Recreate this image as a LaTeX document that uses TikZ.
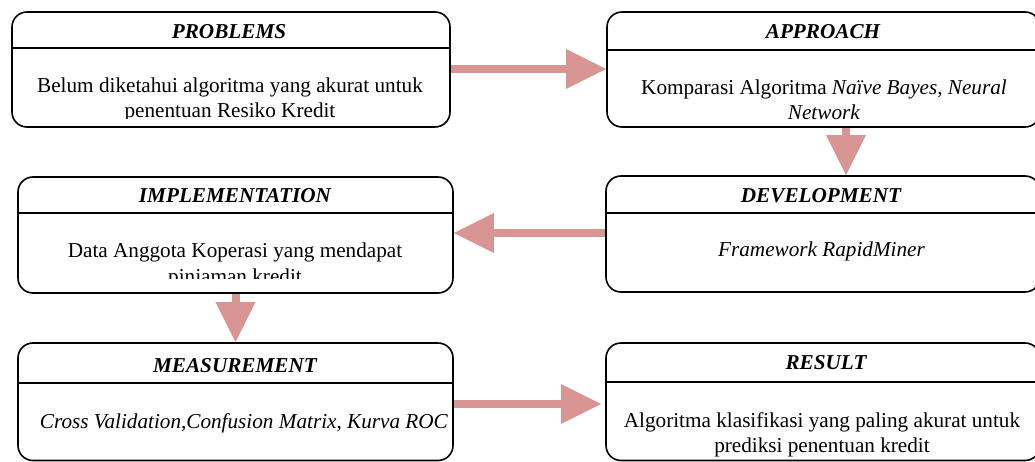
\documentclass[tikz,border=0pt]{standalone}
\usepackage{fontspec}
\setmainfont{Liberation Serif}
\usetikzlibrary{arrows.meta}
\definecolor{arrowpink}{HTML}{D99594}
\begin{document}
\begin{tikzpicture}[x=1pt,y=-1pt,
  stage/.style={draw, line width=1.6pt, rounded corners=15pt, inner sep=0pt},
  ttl/.style={font=\fontsize{21.2}{25}\selectfont\bfseries\itshape, inner sep=0pt, anchor=base},
  body/.style={font=\fontsize{21.2}{25}\selectfont, inner sep=0pt, align=center, anchor=base},
  rule/.style={line width=1.6pt},
  flow/.style={draw=arrowpink, line width=8pt,
    -{Triangle[length=40pt,width=40pt,line width=0pt]}}]
\useasboundingbox (0,0) rectangle (1035,462);
\clip (0,0) rectangle (1035,462);

% frames of the six stages
\node[stage, minimum width=438pt, minimum height=115pt] (p) at (231,69.5) {};
\node[stage, minimum width=433pt, minimum height=115pt] (a) at (823.5,69.5) {};
\node[stage, minimum width=435pt, minimum height=116pt] (i) at (235.5,235) {};
\node[stage, minimum width=434pt, minimum height=116pt] (d) at (823,234) {};
\node[stage, minimum width=435pt, minimum height=117.5pt] (m) at (235.5,401.75) {};
\node[stage, minimum width=434pt, minimum height=117.5pt] (r) at (823,401.75) {};

% header rules
\draw[rule] (p.west |- 0,48) -- (p.east |- 0,48);
\draw[rule] (a.west |- 0,50) -- (a.east |- 0,50);
\draw[rule] (i.west |- 0,213) -- (i.east |- 0,213);
\draw[rule] (d.west |- 0,213) -- (d.east |- 0,213);
\draw[rule] (m.west |- 0,383) -- (m.east |- 0,383);
\draw[rule] (r.west |- 0,382) -- (r.east |- 0,382);

% headings
\node[ttl] (pt) at (229,39) {PROBLEMS};
\node[ttl] (at) at (823,39) {APPROACH};
\node[ttl] (it) at (235,203) {IMPLEMENTATION};
\node[ttl] (dt) at (821,203) {DEVELOPMENT};
\node[ttl] (mt) at (235,372) {MEASUREMENT};
\node[ttl] (rt) at (826,369) {RESULT};

% contents; a multi-line node sits on the baseline of its last line,
% and the text frames cut off the overflowing lines
\begin{scope}
  \clip (0,50) rectangle (1035,118.5);
  \node[body] (pb) at (230,118) {Belum diketahui algoritma yang akurat untuk\\penentuan Resiko Kredit};
\end{scope}
\begin{scope}
  \clip (0,52) rectangle (1035,120);
  \node[body] (ab) at (824,120) {Komparasi Algoritma \textit{Naïve Bayes}, \textit{Neural}\\\textit{Network}};
\end{scope}
\begin{scope}
  \clip (0,215) rectangle (1035,278.5);
  \node[body] (ib) at (235,283) {Data Anggota Koperasi yang mendapat\\pinjaman kredit};
\end{scope}
\node[body] (db) at (821.5,257) {\textit{Framework RapidMiner}};
\node[body] (mb) at (244,428) {\textit{Cross Validation},\textit{Confusion Matrix}, \textit{Kurva ROC}};
\node[body] (rb) at (822,452) {Algoritma klasifikasi yang paling akurat untuk\\prediksi penentuan kredit};

% flow between stages
\draw[flow] (p.east |- 0,69) -- (a.west |- 0,69);
\draw[flow] (a.south -| 846,0) -- (d.north -| 846,0);
\draw[flow] (d.west |- 0,233) -- (i.east |- 0,233);
\draw[flow] (i.south) -- (m.north);
\draw[flow, shorten >=4pt] (m.east |- 0,404) -- (r.west |- 0,404);
\end{tikzpicture}
\end{document}
